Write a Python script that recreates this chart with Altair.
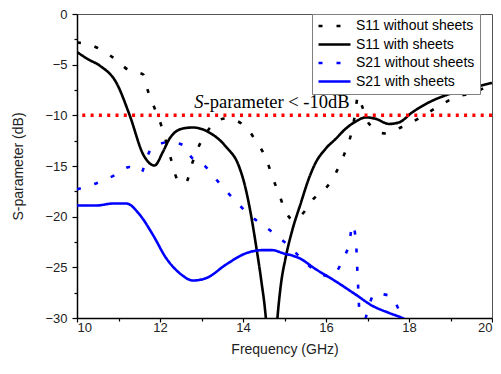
import altair as alt
import pandas as pd

# ---- data ----
s11_wo_x = [10, 10.47, 10.87, 11.27, 11.59, 11.71, 11.87, 12.03, 12.15, 12.27, 12.39, 12.5, 12.63,
            12.77, 12.93, 13.19, 13.59, 14.03, 14.32, 14.56, 14.71, 14.87, 15.03, 15.2, 15.39, 15.71,
            16.09, 16.33, 16.49, 16.62, 16.7, 16.77, 16.86, 17.04, 17.44, 17.8, 18.28, 18.73, 19.13,
            19.61, 20]
s11_wo_y = [-2.8, -3.3, -4.3, -5.6, -5.95, -7.6, -9.3, -11, -12.65, -14.4, -16.1, -16.7, -16.6,
            -14.8, -13.1, -11.3, -10.3, -11, -12.6, -14.3, -16.1, -17.8, -19.5, -20.3, -19.9, -18.2,
            -16.7, -14.9, -13.3, -11.6, -9.9, -8.1, -9.0, -10.85, -11.8, -11.2, -10.2, -9.05, -8.2,
            -7.7, -6.8]

s11_w_x = [10, 10.26, 10.55, 10.95, 11.27, 11.6, 11.87, 12.07, 12.23, 12.55, 12.79, 13.19, 13.59,
           13.9, 14.05, 14.2, 14.32, 14.44, 14.55, 14.62, 14.69, 14.76, 14.83, 14.91, 15.03, 15.19,
           15.39, 15.59, 15.76, 15.99, 16.24, 16.48, 16.72, 16.96, 17.2, 17.52, 17.76, 18.08, 18.49,
           18.97, 19.5, 20]
s11_w_y = [-3.75, -4.45, -5.1, -6.8, -10, -13.9, -14.95, -13.6, -12.3, -11.3, -11.2, -11.7, -13.1,
           -15, -17, -20, -23, -26.3, -30, -34, -40, -34, -30, -26.8, -24.0, -21.3, -18.7, -16.2,
           -14.6, -13.3, -12.3, -11.3, -10.6, -10.2, -10.35, -10.85, -10.7, -9.7, -8.7, -7.9, -7.3,
           -6.8]

s21_wo_x = [10, 10.47, 10.91, 11.27, 11.55, 11.67, 11.83, 12.23, 12.64, 12.75, 13.03, 13.39, 13.76,
            14.15, 14.57, 15.0, 15.38, 15.76, 16.12, 16.41, 16.56, 16.64, 16.72, 16.76, 16.78, 16.8,
            16.88, 17.0, 17.17, 17.54, 17.78, 17.95]
s21_wo_y = [-17.3, -16.7, -15.9, -15.1, -15.65, -14.3, -13.1, -12.65, -13.1, -14.1, -14.8, -16.5,
            -18.2, -19.8, -21.1, -22.5, -24.0, -25.4, -25.9, -24.2, -22.6, -20.8, -22.35, -25.7,
            -27.4, -29.1, -31, -29.3, -27.6, -27.8, -29.4, -31]

s21_w_x = [10, 10.47, 10.87, 11.19, 11.51, 11.83, 12.15, 12.48, 12.8, 13.12, 13.6, 14.08, 14.48,
           14.7, 14.96, 15.36, 15.76, 16.24, 16.72, 17.12, 17.52, 17.84, 18.2]
s21_w_y = [-18.9, -18.9, -18.7, -18.7, -19.8, -21.8, -24.1, -25.6, -26.3, -26.05, -24.7, -23.6,
           -23.3, -23.3, -23.6, -24.1, -25.2, -26.4, -27.7, -28.8, -29.5, -30.0, -30.8]

series_names = ["S11 without sheets", "S11 with sheets", "S21 without sheets", "S21 with sheets"]
series_colors = ["#000000", "#000000", "#0000ff", "#0000ff"]
series_dashes = [[4, 14], [1, 0], [4, 14], [1, 0]]

x_major = [10, 12, 14, 16, 18, 20]
x_minor = [11, 13, 15, 17, 19]
y_major = [-30, -25, -20, -15, -10, -5, 0]
y_minor = [-27.5, -22.5, -17.5, -12.5, -7.5, -2.5]

threshold = -10
annot_x = 13.05
annot_y = -9.3

rows = []
for name, xs, ys in zip(series_names,
                        [s11_wo_x, s11_w_x, s21_wo_x, s21_w_x],
                        [s11_wo_y, s11_w_y, s21_wo_y, s21_w_y]):
    for i, (a, b) in enumerate(zip(xs, ys)):
        rows.append({"series": name, "f": a, "s": b, "i": i})
df = pd.DataFrame(rows)

font = "Liberation Sans"
xscale = alt.Scale(domain=[10, 20], nice=False, zero=False)
yscale = alt.Scale(domain=[-30, 0], nice=False, zero=False)

x_axis_major = alt.Axis(values=x_major, orient="bottom", tickSize=4, labelPadding=-1,
                        title="Frequency (GHz)", titlePadding=8, grid=False,
                        domainColor="black", domainWidth=1.5, tickColor="black", tickWidth=1.2,
                        labelFont=font, labelFontSize=13, labelColor="#222",
                        titleFont=font, titleFontSize=14, titleFontWeight="normal", titleColor="#222")
y_axis_major = alt.Axis(values=y_major, orient="left", tickSize=5, labelPadding=5,
                        title="S-parameter (dB)", titlePadding=19, grid=False,
                        domainColor="black", domainWidth=1.5, tickColor="black", tickWidth=1.2,
                        labelFont=font, labelFontSize=13, labelColor="#222",
                        titleFont=font, titleFontSize=14, titleFontWeight="normal", titleColor="#222")
x_axis_minor = alt.Axis(values=x_minor, orient="bottom", tickSize=3, labels=False, title=None,
                        grid=False, domain=False, tickColor="black", tickWidth=1.2)
y_axis_minor = alt.Axis(values=y_minor, orient="left", tickSize=3, labels=False, title=None,
                        grid=False, domain=False, tickColor="black", tickWidth=1.2)

legend = alt.Legend(title=None, orient="none", legendX=235, legendY=0,
                    symbolType="stroke", symbolSize=1024, symbolStrokeWidth=2.5, clipHeight=14,
                    labelFont=font, labelFontSize=14, labelColor="black",
                    labelOffset=4, padding=5, rowPadding=4.5,
                    strokeColor="#808080", fillColor="white")

lines = alt.Chart(df).mark_line(clip=True, interpolate="monotone", strokeWidth=2.6).encode(
    x=alt.X("f:Q", scale=xscale, axis=x_axis_major),
    y=alt.Y("s:Q", scale=yscale, axis=y_axis_major),
    order="i:Q",
    color=alt.Color("series:N", scale=alt.Scale(domain=series_names, range=series_colors),
                    legend=legend),
    strokeDash=alt.StrokeDash("series:N",
                              scale=alt.Scale(domain=series_names, range=series_dashes),
                              legend=legend),
)

thr = alt.Chart(pd.DataFrame({"y": [threshold]})).mark_rule(
    color="#ff0000", strokeWidth=3.5, strokeDash=[3, 5.3]
).encode(
    y=alt.Y("y:Q", scale=yscale, axis=y_axis_minor),
)

minor_x = alt.Chart(pd.DataFrame({"x": [10]})).mark_point(opacity=0).encode(
    x=alt.X("x:Q", scale=xscale, axis=x_axis_minor),
)

ann = pd.DataFrame({"x": [annot_x], "y": [annot_y]})
ann_s = alt.Chart(ann).mark_text(text="S", font="Liberation Serif", fontSize=18.5,
                                 fontStyle="italic", align="right", baseline="alphabetic",
                                 color="black").encode(x=alt.X("x:Q", scale=xscale, axis=None),
                                                       y=alt.Y("y:Q", scale=yscale, axis=None))
ann_rest = alt.Chart(ann).mark_text(text="-parameter < -10dB", font="Liberation Serif",
                                    fontSize=18.5, align="left", baseline="alphabetic",
                                    color="black").encode(x=alt.X("x:Q", scale=xscale, axis=None),
                                                          y=alt.Y("y:Q", scale=yscale, axis=None))

chart = alt.layer(lines, thr, minor_x, ann_s, ann_rest).resolve_axis(
    x="independent", y="independent"
).properties(
    width=415, height=304,
    autosize=alt.AutoSizeParams(type="none"),
    padding={"left": 69, "top": 6, "right": 1, "bottom": 44},
).configure_view(stroke="#555555", strokeWidth=1)

chart.save("out.html", embed_options={"renderer": "svg", "actions": False})
